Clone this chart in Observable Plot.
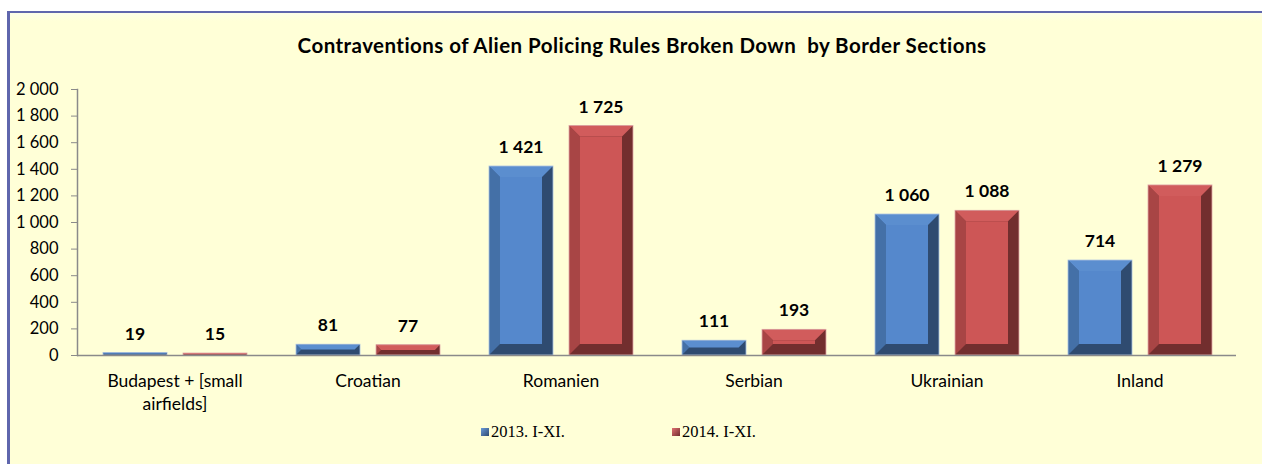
<!DOCTYPE html>
<html>
<head>
<meta charset="utf-8">
<script src="https://cdn.jsdelivr.net/npm/d3@7"></script>
<script src="https://cdn.jsdelivr.net/npm/@observablehq/plot@0.6"></script>
<style>
  html, body { margin: 0; padding: 0; background: #ffffff; width: 1262px; height: 464px; overflow: hidden; }
  #frame { position: absolute; left: 7px; top: 11px; width: 1255px; height: 451px;
    border-top: 2px solid #5f66ad; border-left: 3px solid #5f66ad; border-bottom: 1px solid #d9d9c4;
    background: linear-gradient(180deg, #fcfde9 0px, #ffffd7 8px, #ffffd7 100%); }
  #title { position: absolute; left: 11px; width: 1262px; top: 33px; text-align: center;
    font-family: Lato, "Open Sans", sans-serif; font-weight: bold; font-size: 20.5px; letter-spacing: 0.45px; color: #000; white-space: pre; }
  #chart { position: absolute; left: 0; top: 0; }
  #legend { position: absolute; top: 422px; left: 0; width: 1262px; font-family: "Liberation Serif", "Times New Roman", serif; font-size: 16.5px; color: #000; }
  .li { position: absolute; display: flex; align-items: center; }
  .sw { width: 8px; height: 8px; margin-right: 2px; }
</style>
</head>
<body>
<div id="frame"></div>
<div id="title">Contraventions of Alien Policing Rules Broken Down  by Border Sections</div>
<div id="chart"></div>
<div id="legend"></div>
<script>
// ---- data ----
const categories = ["Budapest + [small airfields]", "Croatian", "Romanien", "Serbian", "Ukrainian", "Inland"];
const categoryLabels = ["Budapest + [small\nairfields]", "Croatian", "Romanien", "Serbian", "Ukrainian", "Inland"];
const seriesNames = ["2013. I-XI.", "2014. I-XI."];
const values2013 = [19, 81, 1421, 111, 1060, 714];
const values2014 = [15, 77, 1725, 193, 1088, 1279];
const yTicks = [0, 200, 400, 600, 800, 1000, 1200, 1400, 1600, 1800, 2000];

// styles
const palette = {
  "2013. I-XI.": {face: "#5588cc", top: "#5b8ecf", left: "#4470a7", dark: "#2f4b70", edge: "#a9c0e0"},
  "2014. I-XI.": {face: "#cd5656", top: "#d15c5c", left: "#a84545", dark: "#722e2e", edge: "#e0a8a8"}
};

const rows = [];
categories.forEach((c, i) => {
  rows.push({cat: c, series: seriesNames[0], value: values2013[i]});
  rows.push({cat: c, series: seriesNames[1], value: values2014[i]});
});

const fmt = d3.formatLocale({decimal: ".", thousands: "\u00a0", grouping: [3], currency: ["", ""]}).format(",d");
const labelOf = new Map(categories.map((c, i) => [c, categoryLabels[i]]));

// bevel renderer: replaces Plot's rects by beveled polygons, positions come from Plot's scales
function bevel(series) {
  const p = palette[series];
  return (index, scales, values, dims, ctx, next) => {
    const g = next(index, scales, values, dims, ctx);
    const ns = "http://www.w3.org/2000/svg";
    for (const r of Array.from(g.querySelectorAll("rect"))) {
      const x = +r.getAttribute("x"), y = +r.getAttribute("y");
      const w = +r.getAttribute("width"), h = +r.getAttribute("height");
      const b = Math.min(11, h / 2, w / 2);
      const grp = document.createElementNS(ns, "g");
      const poly = (pts, fill) => {
        const e = document.createElementNS(ns, "polygon");
        e.setAttribute("points", pts.map(q => q.join(",")).join(" "));
        e.setAttribute("fill", fill);
        grp.appendChild(e);
      };
      poly([[x, y], [x + w, y], [x + w, y + h], [x, y + h]], p.dark);
      poly([[x, y], [x + b, y + b], [x + b, y + h - b], [x, y + h]], p.left);
      poly([[x, y], [x + w, y], [x + w - b, y + b], [x + b, y + b]], p.top);
      poly([[x + b, y + b], [x + w - b, y + b], [x + w - b, y + h - b], [x + b, y + h - b]], p.face);
      const o = document.createElementNS(ns, "rect");
      o.setAttribute("x", x); o.setAttribute("y", y); o.setAttribute("width", w); o.setAttribute("height", h);
      o.setAttribute("fill", "none"); o.setAttribute("stroke", p.edge); o.setAttribute("stroke-width", 0.8);
      grp.appendChild(o);
      r.replaceWith(grp);
    }
    return g;
  };
}

const fontFam = "Lato, 'Open Sans', sans-serif";

const chart = Plot.plot({
  width: 1262,
  height: 420,
  marginLeft: 77,
  marginRight: 26,
  marginTop: 89,
  marginBottom: 65,
  style: {background: "transparent", fontFamily: fontFam, color: "#000"},
  x: {domain: categories, padding: 0, label: null},
  y: {domain: [0, 2000], label: null},
  marks: [
    Plot.axisY({ticks: yTicks, tickFormat: fmt, tickSize: 6, tickPadding: 13, fontSize: 16.5, stroke: "#8a8a8a", fill: "#000", label: null}),
    Plot.axisX({tickSize: 0, tickPadding: 15, fontSize: 17.5, lineHeight: 1.32, tickFormat: d => labelOf.get(d), fill: "#000", label: null}),
    Plot.frame({anchor: "left", stroke: "#8a8a8a", strokeWidth: 1.5}),
    Plot.barY(rows.filter(d => d.series === seriesNames[0]), {x: "cat", y: "value", fill: palette[seriesNames[0]].face, insetLeft: 25, insetRight: 104, render: bevel(seriesNames[0])}),
    Plot.barY(rows.filter(d => d.series === seriesNames[1]), {x: "cat", y: "value", fill: palette[seriesNames[1]].face, insetLeft: 105, insetRight: 24, render: bevel(seriesNames[1])}),
    Plot.ruleY([0], {stroke: "#8a8a8a", strokeWidth: 1.5}),
    Plot.text(rows.filter(d => d.series === seriesNames[0]), {x: "cat", y: "value", text: d => fmt(d.value), dx: -40, dy: -19, fontSize: 17.5, fontWeight: "bold", fill: "#000"}),
    Plot.text(rows.filter(d => d.series === seriesNames[1]), {x: "cat", y: "value", text: d => fmt(d.value), dx: 40, dy: -19, fontSize: 17.5, fontWeight: "bold", fill: "#000"})
  ]
});
document.getElementById("chart").appendChild(chart);

// legend
const legend = document.getElementById("legend");
const legendX = [481, 672];
const swatchGrad = {
  "2013. I-XI.": "linear-gradient(135deg, #6a9ad8, #2f4b70)",
  "2014. I-XI.": "linear-gradient(135deg, #e07070, #722e2e)"
};
seriesNames.forEach((s, i) => {
  const item = document.createElement("div");
  item.className = "li";
  item.style.left = legendX[i] + "px";
  const sw = document.createElement("div");
  sw.className = "sw";
  sw.style.background = swatchGrad[s];
  const t = document.createElement("span");
  t.textContent = s;
  item.appendChild(sw); item.appendChild(t);
  legend.appendChild(item);
});
</script>
</body>
</html>
